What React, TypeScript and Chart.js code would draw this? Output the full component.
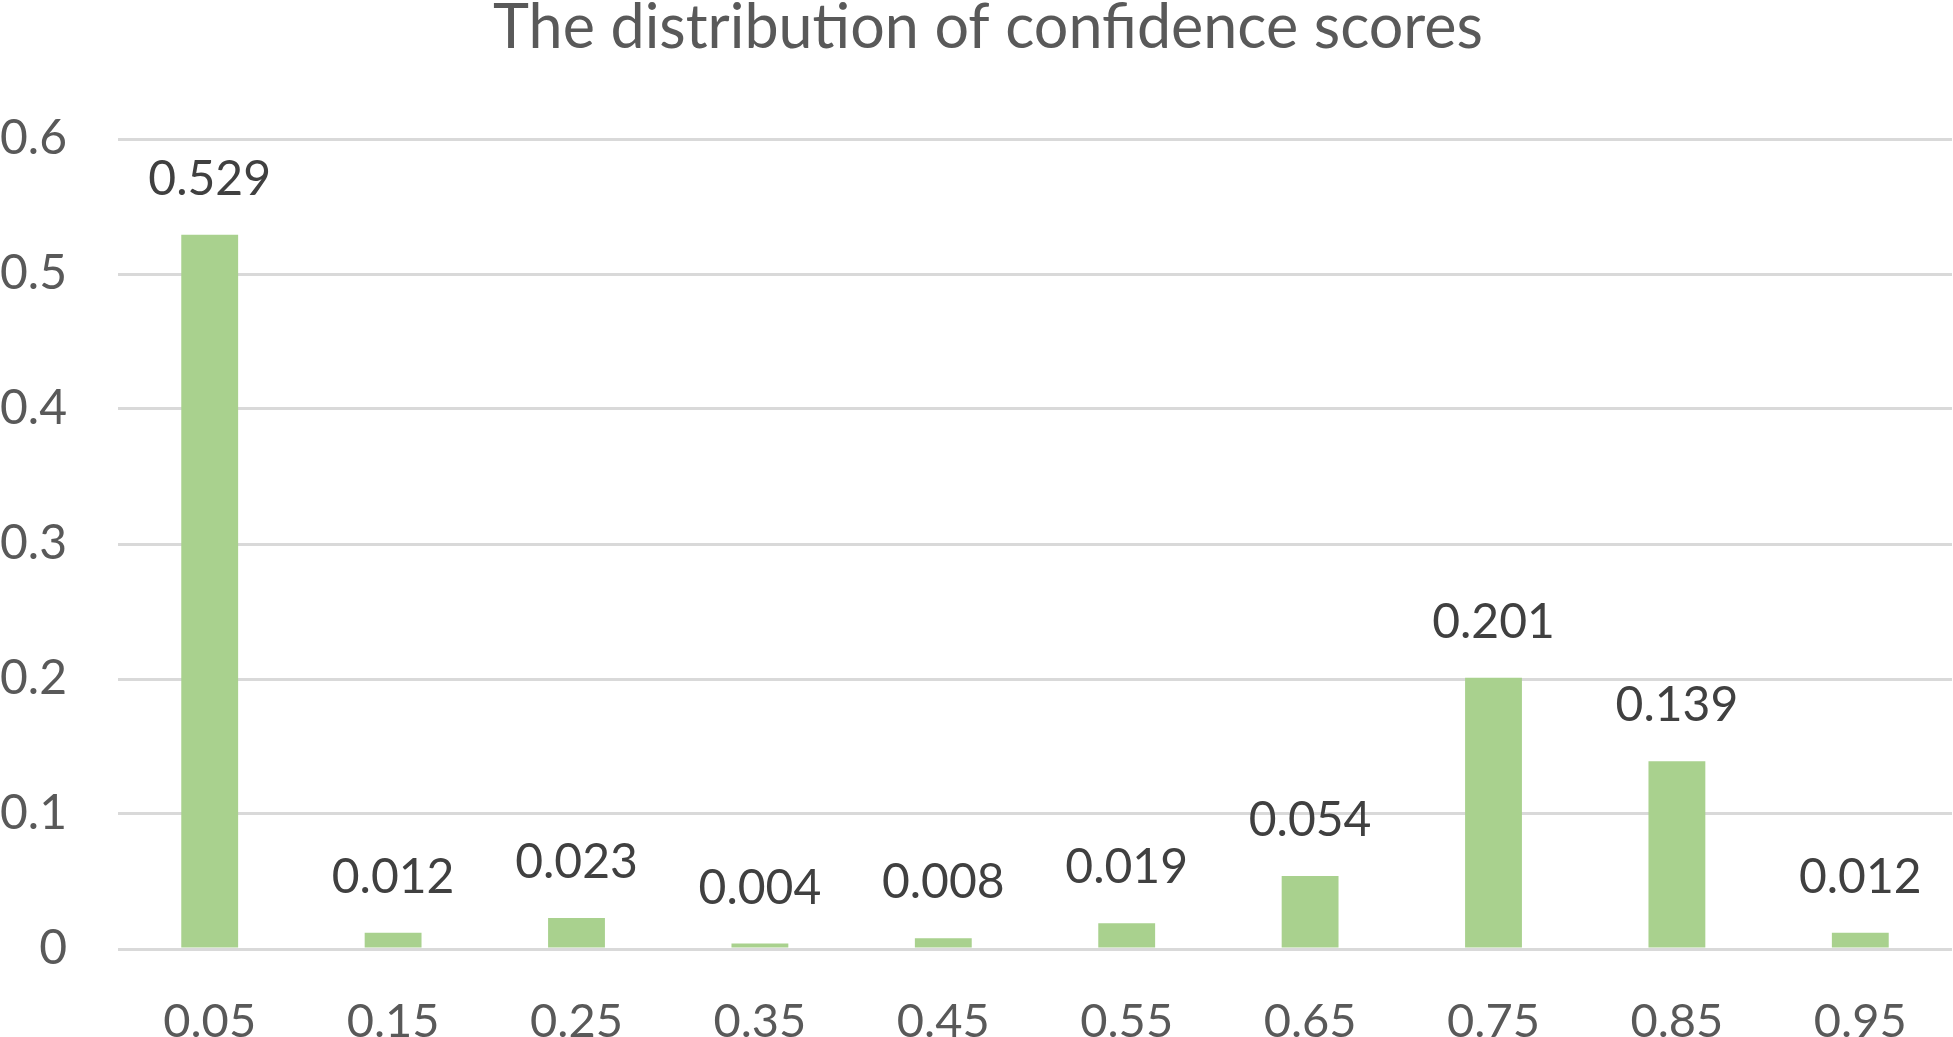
import React, { useEffect, useRef } from "react";
import { Chart, registerables } from "chart.js";

Chart.register(...registerables);

const categories = ["0.05", "0.15", "0.25", "0.35", "0.45", "0.55", "0.65", "0.75", "0.85", "0.95"];
const values = [0.529, 0.012, 0.023, 0.004, 0.008, 0.019, 0.054, 0.201, 0.139, 0.012];
const valueLabels = ["0.529", "0.012", "0.023", "0.004", "0.008", "0.019", "0.054", "0.201", "0.139", "0.012"];
const yTicks = [0, 0.1, 0.2, 0.3, 0.4, 0.5, 0.6];
const titleText = "The distribution of confidence scores";

const FONT = "Lato, 'Open Sans', sans-serif";
const W = 1953;
const H = 1037;

const labelPlugin = {
  id: "labelsAndTitle",
  afterDatasetsDraw(chart: any) {
    const ctx = chart.ctx;
    const meta = chart.getDatasetMeta(0);
    ctx.save();
    ctx.fillStyle = "#404040";
    ctx.font = `48px ${FONT}`;
    ctx.textAlign = "center";
    ctx.textBaseline = "alphabetic";
    meta.data.forEach((bar: any, i: number) => {
      ctx.fillText(valueLabels[i], bar.x, bar.y - 40);
    });
    ctx.fillStyle = "#595959";
    ctx.font = `61px ${FONT}`;
    ctx.fillText(titleText, 988, 48);
    ctx.restore();
  },
};

export default function App() {
  const ref = useRef<HTMLCanvasElement>(null);
  useEffect(() => {
    if (!ref.current) return;
    const chart = new Chart(ref.current, {
      type: "bar",
      data: {
        labels: categories,
        datasets: [
          {
            data: values,
            backgroundColor: "#A9D18E",
            borderWidth: 0,
            barPercentage: 0.31,
            categoryPercentage: 1,
          },
        ],
      },
      options: {
        animation: false,
        responsive: false,
        devicePixelRatio: 1,
        layout: { padding: { top: 139, left: 0, right: 1, bottom: 0 } },
        plugins: {
          legend: { display: false },
          title: { display: false },
          tooltip: { enabled: false },
        },
        scales: {
          x: {
            grid: { display: false },
            border: { display: false },
            ticks: {
              color: "#595959",
              font: { family: FONT, size: 47 },
              padding: 37,
              maxRotation: 0,
            },
            afterFit: (s: any) => {
              s.height = H - 949;
            },
          },
          y: {
            min: 0,
            max: 0.6,
            afterBuildTicks: (s: any) => {
              s.ticks = yTicks.map((v) => ({ value: v }));
            },
            ticks: {
              color: "#595959",
              font: { family: FONT, size: 48 },
              padding: 51,
              callback: (v: any) => (v === 0 ? "0" : Number(v).toFixed(1)),
            },
            grid: { color: "#D9D9D9", lineWidth: 3, drawTicks: false },
            border: { display: false },
            afterFit: (s: any) => {
              s.width = 118;
            },
          },
        },
      },
      plugins: [labelPlugin],
    });
    return () => chart.destroy();
  }, []);
  return (
    <div style={{ position: "absolute", left: 0, top: 0, width: W, height: H, background: "#fff" }}>
      <canvas ref={ref} width={W} height={H} style={{ width: W, height: H, display: "block" }} />
    </div>
  );
}
